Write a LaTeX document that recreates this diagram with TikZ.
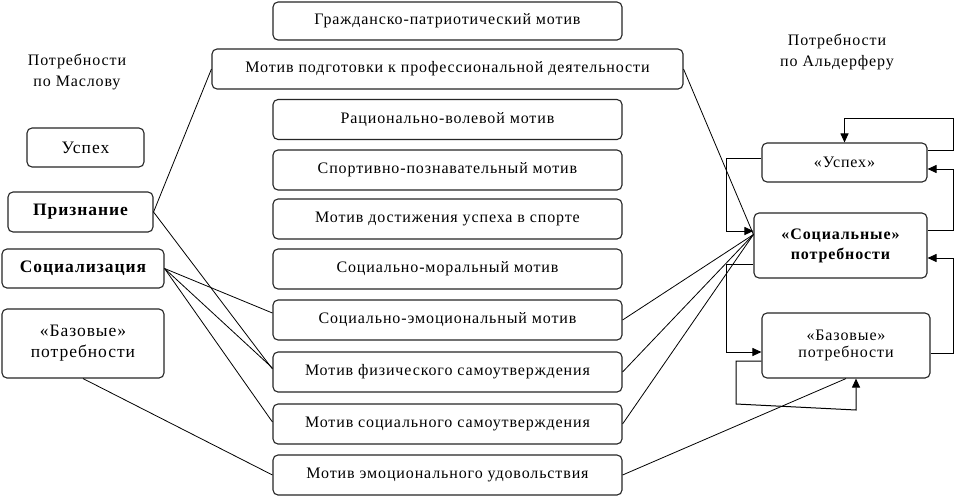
\documentclass[tikz,border=0pt]{standalone}
\usepackage{fontspec}
\setmainfont[LetterSpace=5.5]{Liberation Serif}
\usetikzlibrary{arrows.meta,calc}
\tikzset{
  box/.style={draw=black!85, line width=1.1pt, rounded corners=5pt, inner sep=0pt, align=center, font=\fontsize{16}{20}\selectfont},
  lbox/.style={box, font=\fontsize{17.5}{21}\selectfont},
  mbox/.style={box, minimum width=349pt, minimum height=40pt},
  ttl/.style={align=center, font=\fontsize{16}{21}\selectfont},
  conn/.style={draw=black, line width=0.8pt},
  arr/.style={draw=black, line width=1pt, -{Triangle[length=9pt,width=8pt]}},
}
\begin{document}
\begin{tikzpicture}[x=1pt,y=-1pt]
\useasboundingbox (0,0) rectangle (957,499);
\fill[white] (0,0) rectangle (957,499);
% titles
\node[ttl] (tMaslow) at (77,72) {Потребности\\по Маслову};
\node[ttl] (tAlder) at (837,52) {Потребности\\по Альдерферу};
% middle column
\node[mbox, minimum height=38pt] (m1) at (447.5,21) {Гражданско-патриотический мотив};
\node[box, minimum width=471pt, minimum height=40pt] (m2) at (447.5,69) {Мотив подготовки к профессиональной деятельности};
\node[mbox] (m3) at (447.5,119.5) {Рационально-волевой мотив};
\node[mbox] (m4) at (447.5,170) {Спортивно-познавательный мотив};
\node[mbox] (m5) at (447.5,219) {Мотив достижения успеха в спорте};
\node[mbox] (m6) at (447.5,269) {Социально-моральный мотив};
\node[mbox] (m7) at (447.5,320) {Социально-эмоциональный мотив};
\node[mbox] (m8) at (447.5,372) {Мотив физического самоутверждения};
\node[mbox] (m9) at (447.5,424) {Мотив социального самоутверждения};
\node[mbox] (m10) at (447.5,475) {Мотив эмоционального удовольствия};
% left column
\node[lbox, minimum width=117pt, minimum height=39pt] (uspL) at (85.5,147.5) {Успех};
\node[lbox, minimum width=145pt, minimum height=40pt, font=\fontsize{17.5}{21}\selectfont\bfseries] (priz) at (80.5,212) {Признание};
\node[lbox, minimum width=162pt, minimum height=39pt, font=\fontsize{17.5}{21}\selectfont\bfseries] (soc) at (83,268.5) {Социализация};
\node[lbox, minimum width=162pt, minimum height=69pt] (baz) at (83,343.5) {«Базовые»\\потребности};
% right column
\node[box, minimum width=165pt, minimum height=39pt] (uspR) at (844.5,162.5) {«Успех»};
\node[box, minimum width=173pt, minimum height=65pt, font=\fontsize{16}{20}\selectfont\bfseries] (socR) at (840.5,245.5) {«Социальные»\\потребности};
\node[box, minimum width=168pt, minimum height=65pt, font=\fontsize{16}{17}\selectfont] (bazR) at (846,345.5) {«Базовые»\\потребности};
\coordinate (cv) at ([yshift=11pt]socR.west);
% left connectors
\draw[conn] (priz.east) -- (m2.west);
\draw[conn] (priz.east) -- ([yshift=3pt]m8.west);
\draw[conn] (soc.east) -- ([yshift=7pt]m7.west);
\draw[conn] (soc.east) -- ([yshift=4pt]m8.west);
\draw[conn] (soc.east) -- ([yshift=2pt]m9.west);
\draw[conn] (baz.south) -- (m10.west);
% right connectors
\draw[conn] (m2.east) -- (cv);
\draw[conn] (m7.east) -- (cv);
\draw[conn] (m8.east) -- (cv);
\draw[conn] (m9.east) -- (cv);
\draw[conn] (m10.east) -- (bazR.south);
% feedback loops
\coordinate (a1) at (953,150); \coordinate (a2) at (953,118); \coordinate (a3) at (844.5,118);
\draw[arr] ([yshift=12.5pt]uspR.east) -- (a1) -- (a2) -- (a3) -- (uspR.north);
\coordinate (b1) at (953,230); \coordinate (b2) at (953,169);
\draw[arr] ([yshift=15.5pt]socR.east) -- (b1) -- (b2) -- ([yshift=-6.5pt]uspR.east);
\coordinate (c1) at (953,353); \coordinate (c2) at (953,258);
\draw[arr] ([yshift=-7.5pt]bazR.east) -- (c1) -- (c2) -- ([yshift=-12.5pt]socR.east);
\coordinate (d1) at (726,158); \coordinate (d2) at (726,231);
\draw[arr] ([yshift=4.5pt]uspR.west) -- (d1) -- (d2) -- ([yshift=14.5pt]socR.west);
\coordinate (e1) at (726,264); \coordinate (e2) at (726,352);
\draw[arr] ([yshift=-18.5pt]socR.west) -- (e1) -- (e2) -- ([yshift=-6.5pt]bazR.west);
\coordinate (f1) at (736,361); \coordinate (f2) at (736,404); \coordinate (f3) at (856,410);
\draw[arr] ([yshift=-15.5pt]bazR.west) -- (f1) -- (f2) -- (f3) -- ([xshift=10pt]bazR.south);
\end{tikzpicture}
\end{document}
